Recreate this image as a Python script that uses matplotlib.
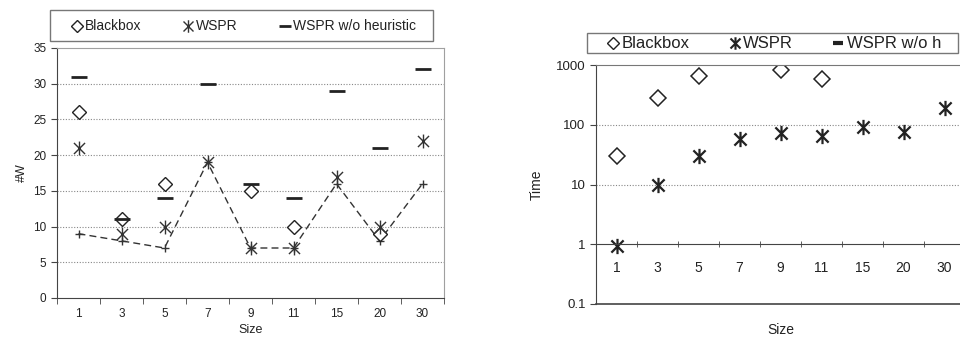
import numpy as np
import matplotlib
matplotlib.use("Agg")
import matplotlib.pyplot as plt
from matplotlib.path import Path
from matplotlib.lines import Line2D
from matplotlib.patches import Rectangle

plt.rcParams['font.family'] = ['Liberation Sans', 'DejaVu Sans']

# data
sizes = ['1', '3', '5', '7', '9', '11', '15', '20', '30']
w_blackbox = [26, 11, 16, np.nan, 15, 10, np.nan, 9, np.nan]
w_wspr = [21, 9, 10, 19, 7, 7, 17, 10, 22]
w_wspr_noh = [31, 11, 14, 30, 16, 14, 29, 21, 32]
w_line = [9, 8, 7, 19, 7, 7, 16, 8, 16]

t_blackbox = [30, 280, 650, np.nan, 840, 590, np.nan, np.nan, np.nan]
t_wspr = [0.94, 10, 30, 57, 74, 65, 92, 76, 194]

# excel-like star marker: X plus a vertical bar
star = Path([(0, -1), (0, 1), (-0.8, -0.8), (0.8, 0.8), (-0.8, 0.8), (0.8, -0.8)],
            [Path.MOVETO, Path.LINETO] * 3)

txt = '#222222'
border = '#a0a0a0'
x = np.arange(len(sizes))
W, H = 960, 338

fig = plt.figure(figsize=(9.6, 3.38), dpi=100)


def legend_box(x0, y0, x1, y1, entries, fs):
    # boxed legend placed in pixel coords (from top-left)
    fig.patches.append(Rectangle((x0 / W, 1 - y1 / H), (x1 - x0) / W, (y1 - y0) / H,
                                 transform=fig.transFigure, facecolor='white',
                                 edgecolor='#777777', lw=1))
    yc = 1 - (y0 + y1) / 2 / H
    for mx, tx, label, kw in entries:
        fig.lines.append(Line2D([mx / W], [yc], transform=fig.transFigure, ls='none', **kw))
        fig.text(tx / W, yc, label, ha='left', va='center', fontsize=fs, color=txt)


# ---------------- left chart ----------------
ax1 = fig.add_axes([57 / W, 40 / H, 387 / W, 250 / H])
for y in range(5, 35, 5):
    ax1.axhline(y, color='#888888', lw=0.8, ls=(0, (1, 1.5)), zorder=0)
ax1.plot(x, w_line, color='#333333', lw=1, ls=(0, (5, 3)), marker='+', ms=6, mew=1)
ax1.plot(x, w_blackbox, ls='none', marker='D', ms=7, mfc='white', mec='#222222', mew=1)
ax1.plot(x, w_wspr, ls='none', marker=star, ms=10, mec='#333333', mew=1)
ax1.plot(x, w_wspr_noh, ls='none', marker='_', ms=11, mec='#222222', mew=2)
ax1.set_xlim(-0.5, len(sizes) - 0.5)
ax1.set_ylim(0, 35)
ax1.set_yticks(range(0, 36, 5))
ax1.set_xticks(x)
ax1.set_xticklabels(sizes)
ax1.set_xticks(np.arange(-0.5, len(sizes)), minor=True)
ax1.tick_params(axis='x', which='major', length=0, pad=7, labelsize=8.5, colors=txt)
ax1.tick_params(axis='x', which='minor', length=4, direction='out', color='#444444')
ax1.tick_params(axis='y', length=4, direction='out', labelsize=8.5, colors=txt, color='#444444')
for s in ['top', 'right']:
    ax1.spines[s].set_color(border)
for s in ['left', 'bottom']:
    ax1.spines[s].set_color('#444444')
ax1.set_xlabel('Size', fontsize=9, color=txt, labelpad=3)
ax1.set_ylabel('#W', fontsize=9, color=txt, labelpad=4)

legend_box(50, 10, 433, 41, [
    (77, 85, 'Blackbox', dict(marker='D', ms=6.5, mfc='white', mec='#222222', mew=1)),
    (188, 196, 'WSPR', dict(marker=star, ms=9, mec='#333333', mew=1)),
    (285, 293, 'WSPR w/o heuristic', dict(marker='_', ms=9, mec='#222222', mew=2)),
], 10)

# ---------------- right chart ----------------
ax2 = fig.add_axes([596 / W, 34 / H, 369 / W, 239 / H])
ax2.set_yscale('log')
ax2.set_ylim(0.1, 1000)
ax2.set_xlim(-0.5, len(sizes) - 0.5)
for y in [10, 100]:
    ax2.axhline(y, color='#888888', lw=0.8, ls=(0, (1, 1.5)), zorder=0)
ax2.axhline(0.1, color='#444444', lw=1.2, clip_on=False)
ax2.plot(x, t_blackbox, ls='none', marker='D', ms=8, mfc='white', mec='#222222', mew=1.1)
ax2.plot(x, t_wspr, ls='none', marker=star, ms=11, mec='#222222', mew=1.6)
ax2.set_yticks([0.1, 1, 10, 100, 1000])
ax2.set_yticklabels(['0.1', '1', '10', '100', '1000'])
ax2.yaxis.set_minor_locator(matplotlib.ticker.NullLocator())
ax2.spines['bottom'].set_position(('data', 1))
ax2.spines['bottom'].set_color('#444444')
ax2.spines['left'].set_color('#444444')
ax2.spines['top'].set_color('#777777')
ax2.spines['right'].set_visible(False)
ax2.set_xticks(x)
ax2.set_xticklabels(sizes)
ax2.set_xticks(np.arange(-0.5, len(sizes)), minor=True)
ax2.tick_params(axis='x', which='major', length=0, pad=12, labelsize=10, colors=txt)
ax2.tick_params(axis='x', which='minor', length=4, direction='inout', color='#444444')
ax2.tick_params(axis='y', length=4, direction='out', labelsize=9.5, colors=txt, color='#444444')
ax2.text(0.5, -0.11, 'Size', transform=ax2.transAxes, ha='center', va='center',
         fontsize=10, color=txt)
ax2.set_ylabel('Time', fontsize=10, color=txt, labelpad=9)

legend_box(587, 33, 958, 53, [
    (613, 622, 'Blackbox', dict(marker='D', ms=6.5, mfc='white', mec='#222222', mew=1)),
    (735, 743, 'WSPR', dict(marker=star, ms=9, mec='#222222', mew=1.5)),
    (838, 847, 'WSPR w/o h', dict(marker='_', ms=7, mec='#222222', mew=3)),
], 12)

fig.savefig('out.png', dpi=100)
